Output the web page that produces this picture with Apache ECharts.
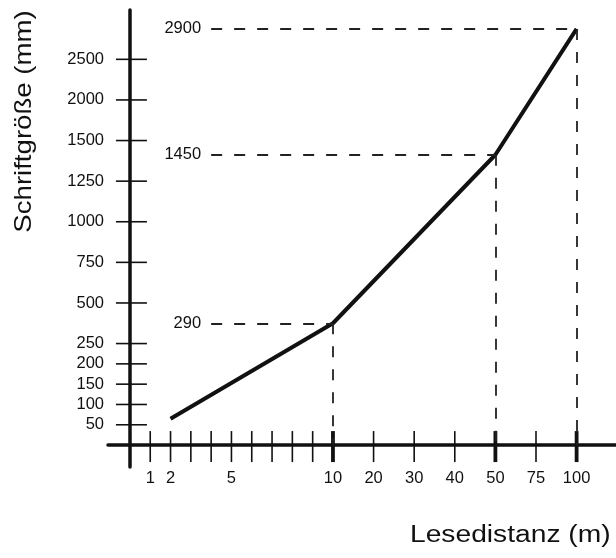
<!DOCTYPE html>
<html><head><meta charset="utf-8">
<script src="https://cdn.jsdelivr.net/npm/echarts@6/dist/echarts.min.js"></script>
<style>html,body{margin:0;padding:0;background:#fff}#c{width:616px;height:558px}</style>
</head><body><div id="c"></div>
<script>
// ---------- data ----------
const distances = [2, 10, 50, 100];          // Lesedistanz (m)
const fontSizes = [65, 290, 1450, 2900];     // Schriftgröße (mm)
const xTickValues = [1, 2, 3, 4, 5, 6, 7, 8, 9, 10, 20, 30, 40, 50, 75, 100];
const xLabelValues = [1, 2, 5, 10, 20, 30, 40, 50, 75, 100];
const yTickValues = [50, 100, 150, 200, 250, 500, 750, 1000, 1250, 1500, 2000, 2500];
const yLabelValues = [50, 100, 150, 200, 250, 500, 750, 1000, 1250, 1500, 2000, 2500];
const xAxisTitle = 'Lesedistanz (m)';
const yAxisTitle = 'Schriftgröße (mm)';

// ---------- axis scales (piecewise linear, as drawn in the original) ----------
const xScaleKnots = [[0, 0], [10, 10], [50, 18], [100, 22]];
const yScaleKnots = [[0, 0], [250, 5], [290, 6], [500, 7], [1250, 13], [1450, 14.3], [1500, 15], [2500, 19], [2900, 20.5]];
function piecewise(knots) {
  return function (v) {
    let i = 0;
    while (i < knots.length - 2 && v > knots[i + 1][0]) i++;
    const a0 = knots[i][0], b0 = knots[i][1], a1 = knots[i + 1][0], b1 = knots[i + 1][1];
    return b0 + (v - a0) * (b1 - b0) / (a1 - a0);
  };
}
const xs = piecewise(xScaleKnots);
const ys = piecewise(yScaleKnots);
function labelFor(values, scale) {
  return function (v) {
    for (const t of values) if (Math.abs(scale(t) - v) < 1e-6) return String(t);
    return '';
  };
}

// ---------- layout / style ----------
const INK = '#111';
const FONT = '"Liberation Sans", Arial, Helvetica, sans-serif';
const annotStartX = 4;   // horizontal guide lines start here (axis units)

const lineData = distances.map((d, i) => [xs(d), ys(fontSizes[i])]);
const annotated = distances.slice(1).map((d, k) => ({ d: d, s: fontSizes[k + 1] }));
const markData = [];
annotated.forEach(a => {
  markData.push([{ name: String(a.s), coord: [annotStartX, ys(a.s)] }, { coord: [xs(a.d), ys(a.s)] }]);
  markData.push([{ name: '', coord: [xs(a.d), ys(a.s)] }, { coord: [xs(a.d), 0] }]);
});
const majorSet = new Set(annotated.map(a => a.d));
const tickData = xTickValues.map(v => [xs(v), 0, majorSet.has(v) ? 1 : 0, 0])
  .concat(yTickValues.map(v => [0, ys(v), 0, 1]));

const chart = echarts.init(document.getElementById('c'), null, { renderer: 'canvas' });
chart.setOption({
  animation: false,
  backgroundColor: '#fff',
  grid: { left: 108, right: 0, top: 10, bottom: 91, containLabel: false, outerBoundsMode: 'none' },
  xAxis: {
    type: 'value', min: -1.08, max: 23.94,
    splitLine: { show: false },
    axisTick: { show: false },
    axisLine: { onZero: true, lineStyle: { color: INK, width: 3.5 } },
    axisLabel: {
      customValues: xLabelValues.map(xs),
      formatter: labelFor(xLabelValues, xs),
      margin: 3, fontSize: 16.5, color: INK, fontFamily: FONT
    }
  },
  yAxis: {
    type: 'value', min: -1.08, max: 21.43,
    splitLine: { show: false },
    axisTick: { show: false },
    axisLine: { onZero: true, lineStyle: { color: INK, width: 3.5 } },
    axisLabel: {
      customValues: yLabelValues.map(ys),
      formatter: labelFor(yLabelValues, ys),
      margin: 4, fontSize: 16.5, color: INK, fontFamily: FONT
    }
  },
  graphic: [
    { type: 'text', x: 24, y: 121.5, rotation: Math.PI / 2, scaleX: 1.15,
      style: { text: yAxisTitle, fontSize: 24, fontFamily: FONT, fill: INK, align: 'center', verticalAlign: 'middle' } },
    { type: 'text', x: 410, y: 536, scaleX: 1.2,
      style: { text: xAxisTitle, fontSize: 23.5, fontFamily: FONT, fill: INK, align: 'left', verticalAlign: 'middle' } }
  ],
  series: [
    {
      type: 'custom', silent: true, clip: false, z: 3,
      data: tickData,
      renderItem: function (params, api) {
        const p = api.coord([api.value(0), api.value(1)]);
        const major = api.value(2) === 1;
        const isY = api.value(3) === 1;
        const shape = isY
          ? { x1: p[0] - 14, y1: p[1], x2: p[0] + 17, y2: p[1] }
          : { x1: p[0], y1: p[1] - 14, x2: p[0], y2: p[1] + 17 };
        return { type: 'line', shape: shape, style: { stroke: INK, lineWidth: major ? 3.8 : 1.6 } };
      }
    },
    {
      type: 'line', silent: true, z: 4,
      data: lineData,
      symbol: 'none',
      lineStyle: { color: INK, width: 4 },
      markLine: {
        silent: true, symbol: 'none', animation: false,
        lineStyle: { color: '#222', width: 1.8, type: [11, 12] },
        label: { show: true, position: 'start', distance: 10, formatter: '{b}', fontSize: 16.5, color: INK, fontFamily: FONT },
        emphasis: { disabled: true },
        data: markData
      }
    }
  ]
});
</script></body></html>
